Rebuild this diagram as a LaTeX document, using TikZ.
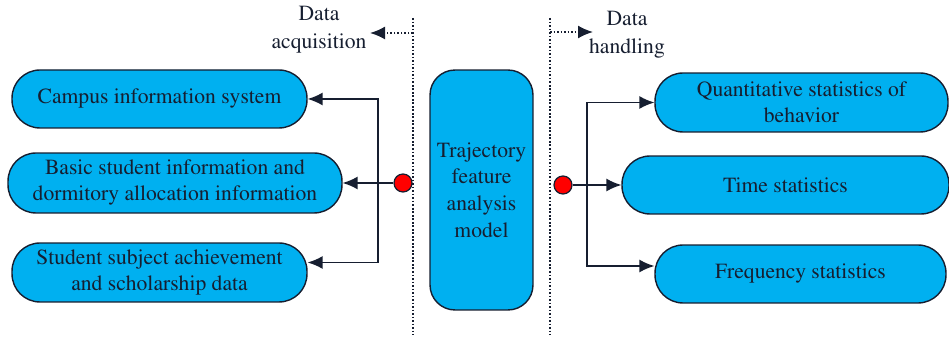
\documentclass[tikz,border=0pt]{standalone}
\usepackage[T1]{fontenc}
\usepackage{mathptmx}
\usetikzlibrary{arrows.meta}
\definecolor{boxblue}{RGB}{0,176,240}
\definecolor{inkc}{RGB}{22,30,48}

\begin{document}
\begin{tikzpicture}[x=0.02cm,y=-0.02cm,
        pill/.style={draw=inkc,line width=0.8pt,fill=boxblue,rounded corners=0.56cm,inner sep=0pt,align=center,text=inkc,font=\fontsize{12.3}{14.8}\selectfont},
        dot/.style={circle,draw=inkc,line width=0.7pt,fill=red,minimum size=0.36cm,inner sep=0pt},
        link/.style={-{Latex[length=3mm,width=2.6mm]},line width=0.8pt,draw=inkc},
        sep/.style={densely dotted,line width=1pt,draw=inkc},
        lbl/.style={align=center,text=inkc,font=\fontsize{12.3}{16}\selectfont}]
        \useasboundingbox (0,0) rectangle (949,340);
        % dividing lines
        \coordinate (lt) at (413,18);
        \coordinate (lb) at (413,335);
        \coordinate (rt) at (550,18);
        \coordinate (rb) at (550,335);
        \draw[sep] (lt) -- (lb);
        \draw[sep] (rt) -- (rb);
        \coordinate (la) at (413,33);
        \coordinate (ra) at (550,32);
        \coordinate (lae) at (370,33);
        \coordinate (rae) at (593,32);
        \draw[sep,-{Latex[length=3mm,width=2.6mm]}] (la) -- (lae);
        \draw[sep,-{Latex[length=3mm,width=2.6mm]}] (ra) -- (rae);
        \node[lbl] (acq) at (319,30) {Data\\acquisition};
        \node[lbl] (hdl) at (627,35) {Data\\handling};
        % boxes
        \node[pill,minimum width=5.9cm,minimum height=1.16cm] (lb1) at (159.5,99) {Campus information system};
        \node[pill,minimum width=6.68cm,minimum height=1.2cm] (lb2) at (175,183) {Basic student information and\\dormitory allocation information};
        \node[pill,minimum width=5.9cm,minimum height=1.18cm] (lb3) at (159.5,272.5) {Student subject achievement\\and scholarship data};
        \node[pill,minimum width=2.06cm,minimum height=4.8cm,rounded corners=0.5cm,font=\fontsize{12.3}{15.2}\selectfont] (model) at (481.5,190) {Trajectory\\feature\\analysis\\model};
        \node[pill,minimum width=5.86cm,minimum height=1.18cm] (rb1) at (801.5,102.5) {Quantitative statistics of\\behavior};
        \node[pill,minimum width=6.54cm,minimum height=1.16cm] (rb2) at (785.5,185) {Time statistics};
        \node[pill,minimum width=5.82cm,minimum height=1.16cm] (rb3) at (800.5,274) {Frequency statistics};
        % dots and links
        \node[dot] (ldot) at (403,183) {};
        \node[dot] (rdot) at (563,185) {};
        \coordinate (lbus) at (378,183);
        \coordinate (rbus) at (587,185);
        \draw[link] (ldot) -- (lb2.east);
        \draw[link] (lbus) |- (lb1.east);
        \draw[link] (lbus) |- ([yshift=0.2cm]lb3.east);
        \draw[link] (rdot) -- (rb2.west);
        \draw[link] (rbus) |- (rb1.west);
        \draw[link] (rbus) |- ([yshift=0.16cm]rb3.west);
\end{tikzpicture}
\end{document}
